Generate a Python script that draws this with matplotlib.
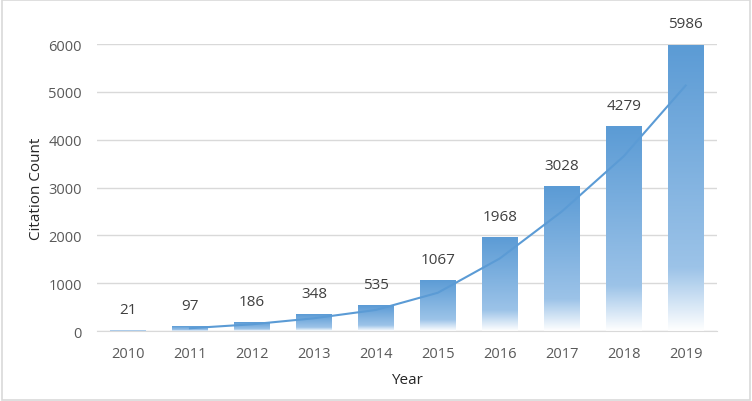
import numpy as np
import pandas as pd
import matplotlib.pyplot as plt
from matplotlib.colors import LinearSegmentedColormap

years = ["2010", "2011", "2012", "2013", "2014", "2015", "2016", "2017", "2018", "2019"]
citations = [21, 97, 186, 348, 535, 1067, 1968, 3028, 4279, 5986]
yticks = [0, 1000, 2000, 3000, 4000, 5000, 6000]

plt.rcParams['font.family'] = ['Open Sans', 'DejaVu Sans']

BLUE = '#5B9BD5'
# bottom -> top of each bar
grad = LinearSegmentedColormap.from_list(
    'bar_grad', [(0.0, '#FFFFFF'), (0.22, '#9CC3E8'), (1.0, BLUE)])

fig = plt.figure(figsize=(7.52, 4.02), dpi=100)
ax = fig.add_axes([0.129, 0.174, 0.824, 0.714])

x = np.arange(len(years))
bars = ax.bar(x, citations, width=0.58, color='none', edgecolor='none', zorder=2)

# gradient fill, each bar fades to white at its base
g = np.linspace(0, 1, 256).reshape(-1, 1)
for rect in bars:
    x0, w, h = rect.get_x(), rect.get_width(), rect.get_height()
    im = ax.imshow(g, cmap=grad, origin='lower', aspect='auto',
                   extent=[x0, x0 + w, 0, h], zorder=2)
    im.set_clip_path(rect)

# 2-period moving average trend line
trend = pd.Series(citations).rolling(2).mean()
ax.plot(x[1:], trend[1:], color=BLUE, lw=1.5, zorder=3)

for xi, v in zip(x, citations):
    ax.annotate(str(v), (xi, v), xytext=(0, 9.5), textcoords='offset points',
                ha='center', va='bottom', fontsize=11, color='#404040')

ax.set_xlim(-0.5, len(years) - 0.5)
ax.set_ylim(0, 6000)
ax.set_xticks(x)
ax.set_xticklabels(years)
ax.set_yticks(yticks)
ax.tick_params(length=0, labelsize=10.5, colors='#595959')
ax.tick_params(axis='y', pad=11)
ax.tick_params(axis='x', pad=11)
ax.yaxis.grid(True, color='#D9D9D9', lw=1)
ax.set_axisbelow(True)
for s in ['top', 'right', 'left']:
    ax.spines[s].set_visible(False)
ax.spines['bottom'].set_color('#D9D9D9')

ax.set_xlabel('Year', fontsize=11, color='#262626', labelpad=8)
ax.set_ylabel('Citation Count', fontsize=11, color='#262626', labelpad=3)

# chart border
fig.patches.append(plt.Rectangle((0.002, 0.003), 0.996, 0.994, transform=fig.transFigure,
                                 fill=False, edgecolor='#D9D9D9', lw=1.2))

fig.savefig('out.png', dpi=100)
